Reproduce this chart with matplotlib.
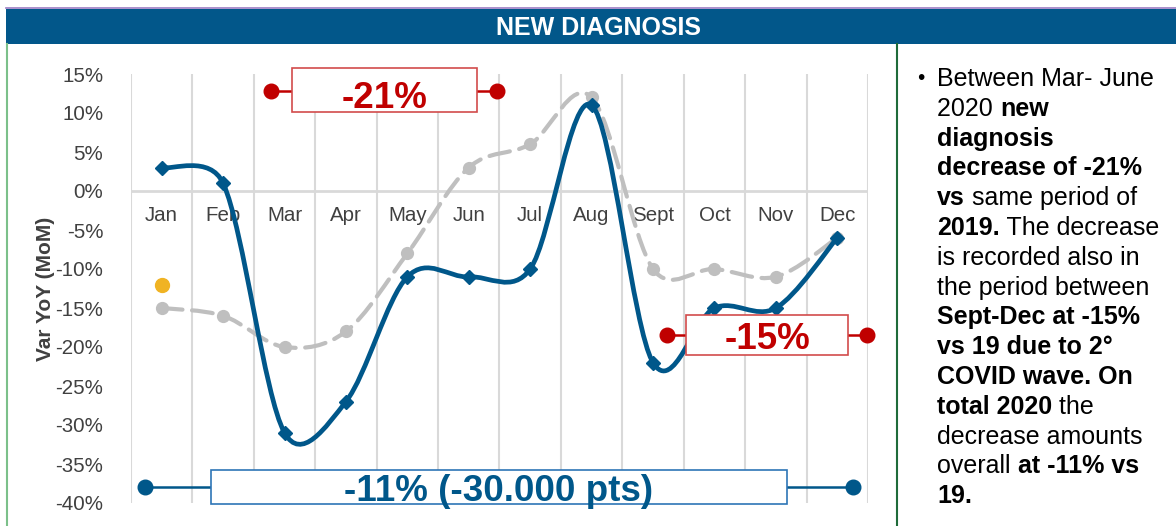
import matplotlib
matplotlib.use("Agg")
import matplotlib.pyplot as plt
from matplotlib.path import Path
from matplotlib.patches import PathPatch, Rectangle
import numpy as np

plt.rcParams['font.family'] = ['Liberation Sans', 'DejaVu Sans']

# data
months = ['Jan', 'Feb', 'Mar', 'Apr', 'May', 'Jun', 'Jul', 'Aug', 'Sept', 'Oct', 'Nov', 'Dec']
var_2020 = [3, 1, -31, -27, -11, -11, -10, 11, -22, -15, -15, -6]
var_2019 = [-15, -16, -20, -18, -8, 3, 6, 12, -10, -10, -11, -6]
jan_point = -12
y_ticks = [15, 10, 5, 0, -5, -10, -15, -20, -25, -30, -35, -40]

title = "NEW DIAGNOSIS"
note_mar_jun = "-21%"
note_sep_dec = "-15%"
note_total = "-11% (-30.000 pts)"

panel_lines = [
    [("Between Mar- June", False)],
    [("2020 ", False), ("new", True)],
    [("diagnosis", True)],
    [("decrease of -21%", True)],
    [("vs", True), (" same period of", False)],
    [("2019.", True), (" The decrease", False)],
    [("is recorded also in", False)],
    [("the period between", False)],
    [("Sept-Dec at -15%", True)],
    [("vs 19 due to 2°", True)],
    [("COVID wave. On", True)],
    [("total 2020", True), (" the", False)],
    [("decrease amounts", False)],
    [("overall ", False), ("at -11% vs", True)],
    [("19.", True)],
]

BLUE = '#00578A'
GRAY = '#BFBFBF'
RED = '#C00000'
TXT = '#404040'
W, H = 1176, 526


def smooth_path(ax, xs, ys):
    # Excel-like smoothed line, control points computed in pixel space
    pts = ax.transData.transform(np.column_stack([xs, ys]))
    n = len(pts)
    verts = [pts[0]]
    codes = [Path.MOVETO]
    for i in range(n - 1):
        p0 = pts[i - 1] if i > 0 else pts[i]
        p1 = pts[i]
        p2 = pts[i + 1]
        p3 = pts[i + 2] if i + 2 < n else pts[i + 1]
        d12 = np.hypot(*(p2 - p1))
        d02 = np.hypot(*(p2 - p0))
        d13 = np.hypot(*(p3 - p1))
        f = 1 / 6 if d02 / 6 < d12 / 2 else d12 / (2 * d02)
        g = 1 / 6 if d13 / 6 < d12 / 2 else d12 / (2 * d13)
        verts += [p1 + (p2 - p0) * f, p2 - (p3 - p1) * g, p2]
        codes += [Path.CURVE4] * 3
    verts = ax.transData.inverted().transform(np.array(verts))
    return Path(verts, codes)


fig = plt.figure(figsize=(W / 100, H / 100), dpi=100)

# header band + panel borders
fig.add_artist(Rectangle((6 / W, 1 - 44 / H), 1 - 6 / W, 35 / H, transform=fig.transFigure,
                         facecolor='#02578A', edgecolor='none'))
fig.add_artist(plt.Line2D([6 / W, 1], [1 - 8 / H, 1 - 8 / H], transform=fig.transFigure,
                          color='#9B7BC4', lw=1.2))
fig.add_artist(plt.Line2D([7 / W, 7 / W], [0, 1 - 44 / H], transform=fig.transFigure,
                          color='#7CC08A', lw=1.5))
fig.add_artist(plt.Line2D([897 / W, 897 / W], [0, 1 - 44 / H], transform=fig.transFigure,
                          color='#1F6B3A', lw=1.5))
fig.text(598 / W, 1 - 28 / H, title, color='white', fontsize=18, fontweight='bold',
         ha='center', va='center')

ax = fig.add_axes([131 / W, 23 / H, 737 / W, 429 / H])
x = np.arange(1, 13)
ax.set_xlim(0.5, 12.5)
ax.set_ylim(-40, 15)
for s in ax.spines.values():
    s.set_visible(False)

ax.set_xticks(np.arange(0.5, 13, 1), minor=True)
ax.grid(which='minor', axis='x', color='#D9D9D9', lw=1.5)
ax.tick_params(which='minor', length=0)
ax.axhline(0, color='#D9D9D9', lw=2, zorder=1)

ax.set_yticks(y_ticks)
ax.set_yticklabels([f'{v}%' for v in y_ticks])
ax.tick_params(axis='y', length=0, pad=20, labelsize=14.8, labelcolor=TXT)

ax.spines['bottom'].set_position(('data', 0))
ax.set_xticks(x)
ax.set_xticklabels(months)
ax.tick_params(axis='x', length=0, pad=11, labelsize=14.8, labelcolor=TXT)

ax.set_ylabel('Var YoY (MoM)', fontsize=15, fontweight='bold', color=TXT)
ax.yaxis.set_label_coords(-0.103, 0.5)

# series
ax.add_patch(PathPatch(smooth_path(ax, x, var_2019), facecolor='none', edgecolor=GRAY, lw=3,
                       linestyle=(0, (5, 2.3)), zorder=3, capstyle='round'))
ax.plot(x, var_2019, linestyle='none', marker='o', ms=8.5, color=GRAY, zorder=3)
ax.add_patch(PathPatch(smooth_path(ax, x, var_2020), facecolor='none', edgecolor=BLUE, lw=3.4,
                       zorder=4))
ax.plot(x, var_2020, linestyle='none', marker='D', ms=7.5, color=BLUE, zorder=4)
ax.plot([1], [jan_point], linestyle='none', marker='o', ms=10, color='#F0B323', zorder=4)


def bracket(x0, x1, y, bx0, bx1, by0, by1, label, base, color, edge):
    ax.plot([x0, bx0], [y, y], color=color, lw=1.8, zorder=5, clip_on=False)
    ax.plot([bx1, x1], [y, y], color=color, lw=1.8, zorder=5, clip_on=False)
    ax.plot([x0, x1], [y, y], linestyle='none', marker='o', ms=10.5, color=color,
            zorder=6, clip_on=False)
    ax.add_patch(Rectangle((bx0, by0), bx1 - bx0, by1 - by0, facecolor='white',
                           edgecolor=edge, lw=1.2, zorder=6, clip_on=False))
    ax.text((bx0 + bx1) / 2, base, label, color=color, fontsize=26.5,
            fontweight='bold', ha='center', va='baseline', zorder=7, clip_on=False)


bracket(2.78, 6.46, 12.8, 3.12, 6.14, 10.15, 15.8, note_mar_jun, 10.7, RED, '#D24B4B')
bracket(9.23, 12.49, -18.4, 9.54, 12.18, -21.0, -15.85, note_sep_dec, -20.2, RED, '#D24B4B')
bracket(0.73, 12.26, -37.9, 1.80, 11.18, -40.1, -35.75, note_total, -39.7, BLUE, '#2E75B6')

# right text panel
fig.text(917 / W, 1 - 84 / H, '•', fontsize=15, color='black', va='baseline')
renderer = fig.canvas.get_renderer()
for i, line in enumerate(panel_lines):
    xp = 937
    yp = 1 - (86 + i * 29.8) / H
    for seg, bold in line:
        t = fig.text(xp / W, yp, seg, fontsize=18, color='black', va='baseline',
                     fontweight='bold' if bold else 'normal')
        xp = t.get_window_extent(renderer).x1

fig.savefig('out.png', dpi=100)
